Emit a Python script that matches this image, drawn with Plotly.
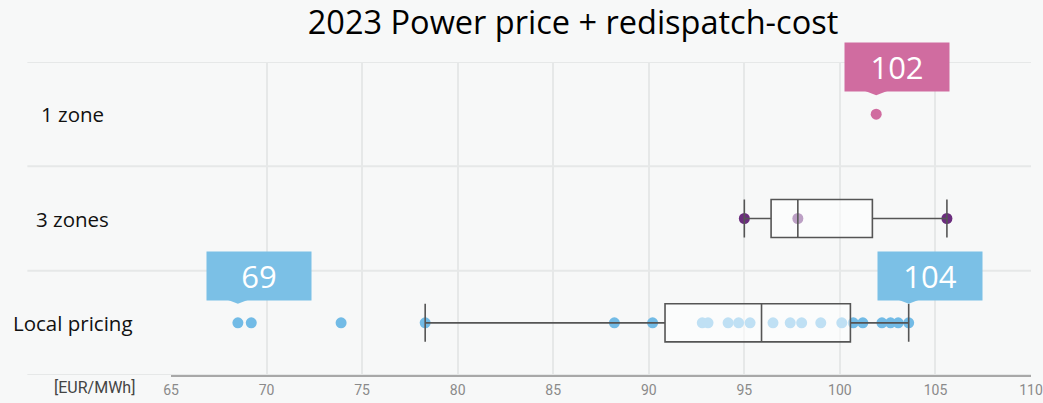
import numpy as np
import plotly.graph_objects as go

# ---- data ----
categories = ["Local pricing", "3 zones", "1 zone"]   # bottom -> top
local_pricing = [68.5, 69.2, 73.9, 78.3, 88.2, 90.2, 92.8, 93.1, 94.15, 94.7, 95.3,
                 96.5, 97.4, 98.0, 99.0, 100.1, 100.7, 101.2, 102.2, 102.65, 103.05, 103.6]
three_zones = [95.0, 97.8, 105.6]
one_zone = [101.9]
x_ticks = [65, 70, 75, 80, 85, 90, 95, 100, 105, 110]
label_texts = ["69", "104", "102"]

series = [
    ("Local pricing", local_pricing, "#72BBE6", True),
    ("3 zones", three_zones, "#6B2D7E", True),
    ("1 zone", one_zone, "#D06CA0", False),
]

BG = "#F7F8F8"
GRID = "#E6E8E8"

fig = go.Figure()

# point layers (drawn first, so the semi-transparent box sits on top)
for name, vals, color, _ in series:
    fig.add_trace(go.Box(
        x=vals, y=[name] * len(vals), orientation="h",
        boxpoints="all", jitter=0, pointpos=0,
        line=dict(width=0, color="rgba(0,0,0,0)"), fillcolor="rgba(0,0,0,0)",
        marker=dict(color=color, size=11, opacity=1),
        width=0.365, whiskerwidth=1, showlegend=False, hoverinfo="x",
    ))


def box_stats(vals):
    a = np.asarray(vals, dtype=float)
    q1, med, q3 = np.percentile(a, [25, 50, 75])
    iqr = q3 - q1
    lf = a[a >= q1 - 1.5 * iqr].min()
    uf = a[a <= q3 + 1.5 * iqr].max()
    return q1, med, q3, lf, uf


# box layers
for name, vals, color, has_box in series:
    if not has_box:
        continue
    q1, med, q3, lf, uf = box_stats(vals)
    fig.add_trace(go.Box(
        y=[name], orientation="h",
        q1=[q1], median=[med], q3=[q3], lowerfence=[lf], upperfence=[uf],
        boxpoints=False,
        line=dict(width=1.6, color="#555555"),
        fillcolor="rgba(255,255,255,0.55)",
        width=0.365, whiskerwidth=1, showlegend=False, hoverinfo="skip",
    ))

# horizontal separators (extend left beyond the plot area)
for i in range(len(categories) + 1):
    fig.add_shape(type="line", xref="paper", yref="y",
                  x0=-0.167, x1=1.0, y0=i - 0.5, y1=i - 0.5,
                  line=dict(color=GRID, width=2), layer="below")

# callouts
callouts = [
    (min(local_pricing), "Local pricing", label_texts[0], "#7BC0E6"),
    (max(local_pricing), "Local pricing", label_texts[1], "#7BC0E6"),
    (one_zone[0], "1 zone", label_texts[2], "#D06CA0"),
]
for xv, cat, txt, col in callouts:
    yi = categories.index(cat)
    fig.add_shape(type="path", xref="x", yref="y",
                  xsizemode="pixel", ysizemode="pixel",
                  xanchor=xv, yanchor=yi,
                  path="M-13,24 L0,19 L13,24 Z",
                  fillcolor=col, line=dict(width=0), layer="above")
    fig.add_annotation(x=xv, y=yi, xref="x", yref="y", text=txt, showarrow=False,
                       xshift=21, yshift=47, xanchor="center", yanchor="middle",
                       width=104, height=48, borderpad=0, bgcolor=col,
                       align="center", valign="middle",
                       font=dict(family="Open Sans", size=31, color="white"))

# category labels
for i, cat in enumerate(categories):
    fig.add_annotation(x=-0.114, y=i, xref="paper", yref="y", text=cat,
                       showarrow=False, xanchor="center", yanchor="middle",
                       font=dict(family="Open Sans", size=20.5, color="#111111"))

# unit label
fig.add_annotation(x=-0.0895, y=0, xref="paper", yref="paper", text="[EUR/MWh]",
                   showarrow=False, xanchor="center", yanchor="middle", yshift=-12,
                   font=dict(family="Roboto", size=16, color="#444444"))

fig.update_layout(
    width=1043, height=403,
    paper_bgcolor=BG, plot_bgcolor=BG,
    margin=dict(l=171, r=12, t=62, b=28, autoexpand=False),
    boxmode="overlay",
    title=dict(text="2023 Power price + redispatch-cost", x=0.5494, xanchor="center",
               xref="container", yref="container", y=0.9715, yanchor="top",
               font=dict(family="Open Sans", size=32.5, color="#000000")),
    xaxis=dict(range=[65, 110], tickvals=x_ticks, showgrid=True, gridcolor=GRID,
               gridwidth=1.5, zeroline=False, showline=True, linecolor="#A8A8A8",
               linewidth=2, ticks="", ticklabelstandoff=1, automargin=False,
               tickfont=dict(family="Roboto", size=14, color="#8A8A8A"),
               fixedrange=True),
    yaxis=dict(type="category", categoryorder="array", categoryarray=categories,
               range=[-0.5, 2.5], showgrid=False, showticklabels=False,
               zeroline=False, showline=False, fixedrange=True, automargin=False),
)

fig.write_html("out.html", config={"displayModeBar": False},
               post_script="document.body.style.margin='0';document.body.style.overflow='hidden';")
